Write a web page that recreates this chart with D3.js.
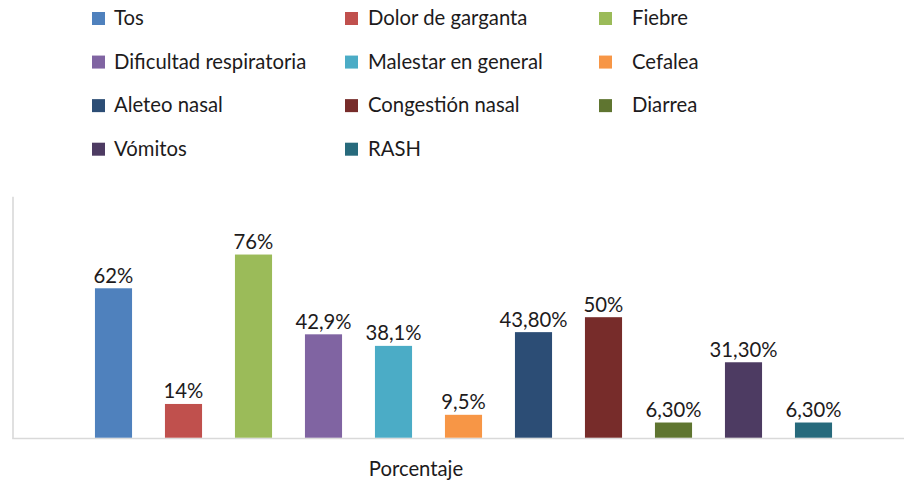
<!DOCTYPE html>
<html>
<head>
<meta charset="utf-8">
<script src="https://cdn.jsdelivr.net/npm/d3@7"></script>
<style>
  body { margin: 0; background: #fff; }
  svg text { font-family: Lato, "Liberation Sans", sans-serif; fill: #1d1b1c; }
</style>
</head>
<body>
<svg id="chart" width="904" height="483"></svg>
<script>
// data
var categories = ['Tos', 'Dolor de garganta', 'Fiebre', 'Dificultad respiratoria', 'Malestar en general',
	'Cefalea', 'Aleteo nasal', 'Congestión nasal', 'Diarrea', 'Vómitos', 'RASH'];
var values = [62, 14, 76, 42.9, 38.1, 9.5, 43.8, 50, 6.3, 31.3, 6.3];
var valueLabels = ['62%', '14%', '76%', '42,9%', '38,1%', '9,5%', '43,80%', '50%', '6,30%', '31,30%', '6,30%'];
var colors = ['#4f81bd', '#c0504d', '#9bbb59', '#8064a2', '#4bacc6', '#f79646',
	'#2c4d75', '#772c2a', '#5f7530', '#4d3b62', '#276a7c'];
var axisTitle = 'Porcentaje';

var svg = d3.select('#chart');

var x = d3.scaleBand()
	.domain(categories)
	.range([78.5, 848.5])
	.paddingInner(0.47)
	.paddingOuter(0.235);

var y = d3.scaleLinear()
	.domain([0, 100])
	.range([437.7, 196.7]);

// legend, 3 columns
var legendSquareX = [92, 345, 599];
var legendTextX = [114, 368, 632];
var legendRow = d3.scalePoint().domain([0, 1, 2, 3]).range([18.5, 149.2]);

var legend = svg.append('g').selectAll('g')
	.data(categories)
	.enter().append('g');

legend.append('rect')
	.attr('x', function(d, i){ return legendSquareX[i % 3]; })
	.attr('y', function(d, i){ return legendRow(Math.floor(i / 3)) - 6.5; })
	.attr('width', 13)
	.attr('height', 13)
	.attr('fill', function(d, i){ return colors[i]; });

legend.append('text')
	.attr('x', function(d, i){ return legendTextX[i % 3]; })
	.attr('y', function(d, i){ return legendRow(Math.floor(i / 3)) + 6.5; })
	.attr('font-size', '20.3px')
	.text(function(d){ return d; });

// axis lines
svg.append('line')
	.attr('x1', 13).attr('x2', 13)
	.attr('y1', y(100)).attr('y2', y(0) + 0.8)
	.attr('stroke', '#d9d9d9')
	.attr('stroke-width', 1.6);

svg.append('line')
	.attr('x1', 12.2).attr('x2', 904)
	.attr('y1', y(0) + 0.8).attr('y2', y(0) + 0.8)
	.attr('stroke', '#d9d9d9')
	.attr('stroke-width', 1.6);

// bars
svg.append('g').selectAll('rect')
	.data(values)
	.enter().append('rect')
	.attr('x', function(d, i){ return x(categories[i]); })
	.attr('y', function(d){ return y(d); })
	.attr('width', x.bandwidth())
	.attr('height', function(d){ return y(0) - y(d); })
	.attr('fill', function(d, i){ return colors[i]; });

// value labels
svg.append('g').selectAll('text')
	.data(values)
	.enter().append('text')
	.attr('x', function(d, i){ return x(categories[i]) + x.bandwidth() / 2; })
	.attr('y', function(d){ return y(d) - 5.5; })
	.attr('text-anchor', 'middle')
	.attr('font-size', '20.3px')
	.text(function(d, i){ return valueLabels[i]; });

// category axis title
svg.append('text')
	.attr('x', 416)
	.attr('y', 476)
	.attr('text-anchor', 'middle')
	.attr('font-size', '20.3px')
	.text(axisTitle);
</script>
</body>
</html>
